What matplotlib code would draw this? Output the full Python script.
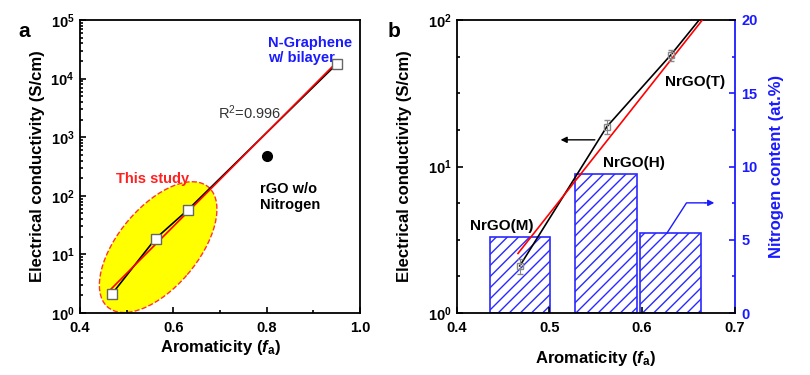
import numpy as np
import matplotlib
matplotlib.use("Agg")
import matplotlib.pyplot as plt
from matplotlib.patches import Ellipse
from matplotlib.ticker import LogLocator, FixedLocator, MultipleLocator, NullFormatter

plt.rcParams['font.family'] = ['Liberation Sans', 'DejaVu Sans']
plt.rcParams['font.weight'] = 'bold'
plt.rcParams['mathtext.fontset'] = 'custom'
plt.rcParams['mathtext.rm'] = 'Liberation Sans:bold'
plt.rcParams['mathtext.it'] = 'Liberation Sans:italic:bold'
plt.rcParams['mathtext.bf'] = 'Liberation Sans:bold'
plt.rcParams['hatch.linewidth'] = 1.0

# data
aromaticity = [0.468, 0.562, 0.631, 0.951]
conductivity = [2.1, 18.7, 57.6, 18000]
cond_err = [0.25, 2.0, 5.0, 3000]
rgo_x = [0.80]
rgo_y = [470]

bar_x = [0.468, 0.561, 0.631]
bar_width = [0.065, 0.066, 0.066]
nitrogen = [5.2, 9.5, 5.45]
bar_names = ['NrGO(M)', 'NrGO(H)', 'NrGO(T)']

# log-linear fit
coef = np.polyfit(aromaticity, np.log10(conductivity), 1)
fit_x = np.array([0.466, 0.951])
fit_y = 10 ** np.polyval(coef, fit_x)

xlabel = r'Aromaticity ($f_\mathrm{a}$)'
ylabel = 'Electrical conductivity (S/cm)'

fig = plt.figure(figsize=(8.1, 3.75), dpi=100)
ax1 = fig.add_axes([0.0988, 0.165, 0.3457, 0.782])
ax2 = fig.add_axes([0.564, 0.165, 0.343, 0.782])


def style_log(ax):
    ax.tick_params(which='both', direction='in', labelsize=10.5, width=1.2)
    ax.tick_params(which='major', length=4)
    ax.tick_params(which='minor', length=2)
    ax.tick_params(axis='x', pad=6)
    ax.tick_params(axis='y', pad=4)
    for s in ax.spines.values():
        s.set_linewidth(1.3)
    for lab in ax.get_xticklabels() + ax.get_yticklabels():
        lab.set_fontweight('bold')


# ---- panel a ----
ax = ax1
ax.set_yscale('log')
ax.set_xlim(0.4, 1.0)
ax.set_ylim(1, 1e5)
ell = Ellipse((0.279, 0.225), 0.545, 0.28, angle=48, transform=ax.transAxes,
              facecolor='#ffff00', edgecolor='#ff3333', linestyle='--', linewidth=1.0, zorder=1)
ax.add_patch(ell)
ax.plot(aromaticity, conductivity, color='black', lw=1.2, zorder=3)
ax.plot(fit_x, fit_y, color='red', lw=1.2, zorder=4)
ax.errorbar(aromaticity, conductivity, yerr=cond_err, fmt='s', ms=6.5, mfc='white',
            mec='#666666', ecolor='#666666', capsize=2.5, elinewidth=1, zorder=5)
ax.plot(rgo_x, rgo_y, 'o', color='black', ms=7, zorder=5)
ax.xaxis.set_major_locator(MultipleLocator(0.2))
ax.xaxis.set_minor_locator(MultipleLocator(0.1))
ax.yaxis.set_major_locator(LogLocator(base=10, numticks=10))
ax.yaxis.set_minor_locator(LogLocator(base=10, subs=np.arange(2, 10), numticks=20))
ax.yaxis.set_minor_formatter(NullFormatter())
ax.set_xticks([0.4, 0.6, 0.8, 1.0], ['0.4', '0.6', '0.8', '1.0'])
style_log(ax)
ax.set_xlabel(xlabel, fontsize=12, fontweight='bold', labelpad=2)
ax.set_ylabel(ylabel, fontsize=12, fontweight='bold', labelpad=4)
ax.text(0.555, 190, 'This study', color='#ff2020', fontsize=10.5, fontweight='bold', ha='center', va='center')
ax.text(0.802, 10 ** 4.48, 'N-Graphene\nw/ bilayer', color='#1a1aff', fontsize=10.5,
        fontweight='bold', ha='left', va='center', linespacing=1.15)
ax.text(0.696, 10 ** 3.41, r'R$^\mathregular{2}$=0.996', color='#333333', fontsize=10.5,
        fontweight='normal', ha='left', va='center')
ax.text(0.786, 10 ** 1.98, 'rGO w/o\nNitrogen', color='black', fontsize=10.5,
        fontweight='bold', ha='left', va='center', linespacing=1.15)
fig.text(0.030, 0.915, 'a', fontsize=15, fontweight='bold', ha='center', va='center')

# ---- panel b ----
ax = ax2
axr = ax.twinx()
ax.set_zorder(axr.get_zorder() + 1)
ax.patch.set_visible(False)
axr.bar(bar_x, nitrogen, width=bar_width, facecolor='white', edgecolor='#2a2aff',
        hatch='///', linewidth=1.2)
axr.set_ylim(0, 20)
axr.yaxis.set_major_locator(MultipleLocator(5))
axr.yaxis.set_minor_locator(MultipleLocator(2.5))
axr.tick_params(which='both', direction='in', colors='#1a1aff', labelsize=10.5, width=1.2, pad=5)
axr.tick_params(which='major', length=4)
axr.tick_params(which='minor', length=2)
for lab in axr.get_yticklabels():
    lab.set_fontweight('bold')
axr.spines['right'].set_color('#1a1aff')
axr.spines['right'].set_linewidth(1.3)
axr.spines['left'].set_visible(False)
axr.spines['top'].set_visible(False)
axr.spines['bottom'].set_visible(False)
axr.set_ylabel('Nitrogen content (at.%)', color='#1a1aff', fontsize=12, fontweight='bold', labelpad=8)

ax.set_yscale('log')
ax.set_xlim(0.4, 0.7)
ax.set_ylim(1, 100)
ax.plot(aromaticity, conductivity, color='black', lw=1.2, zorder=3)
ax.plot(fit_x, fit_y, color='red', lw=1.2, zorder=4)
ax.errorbar(aromaticity, conductivity, yerr=cond_err, fmt='s', ms=5, mfc='none',
            mec='#888888', ecolor='#888888', capsize=2, elinewidth=0.8, zorder=5)
ax.xaxis.set_major_locator(MultipleLocator(0.1))
ax.yaxis.set_major_locator(LogLocator(base=10, numticks=10))
ax.yaxis.set_minor_locator(FixedLocator([10 ** (k / 4) for k in range(9) if k % 4]))
ax.yaxis.set_minor_formatter(NullFormatter())
ax.spines['right'].set_visible(False)
style_log(ax)
ax.set_xlabel(xlabel, fontsize=12, fontweight='bold', labelpad=10)
ax.set_ylabel(ylabel, fontsize=12, fontweight='bold', labelpad=11)
for name, bx, by in zip(bar_names, [0.448, 0.5915, 0.657], [3.95, 10.6, 37.5]):
    ax.text(bx, by, name, fontsize=11, fontweight='bold', ha='center', va='center')
ax.annotate('', xy=(0.509, 15.2), xytext=(0.552, 15.2),
            arrowprops=dict(arrowstyle='-|>', color='black', lw=1, mutation_scale=9))
axr.plot([0.627, 0.648, 0.668], [5.47, 7.52, 7.52], color='#1a1aff', lw=1)
axr.annotate('', xy=(0.681, 7.52), xytext=(0.665, 7.52),
             arrowprops=dict(arrowstyle='-|>', color='#1a1aff', lw=1, mutation_scale=9))
fig.text(0.486, 0.915, 'b', fontsize=15, fontweight='bold', ha='center', va='center')

fig.savefig('out.png', dpi=100)
